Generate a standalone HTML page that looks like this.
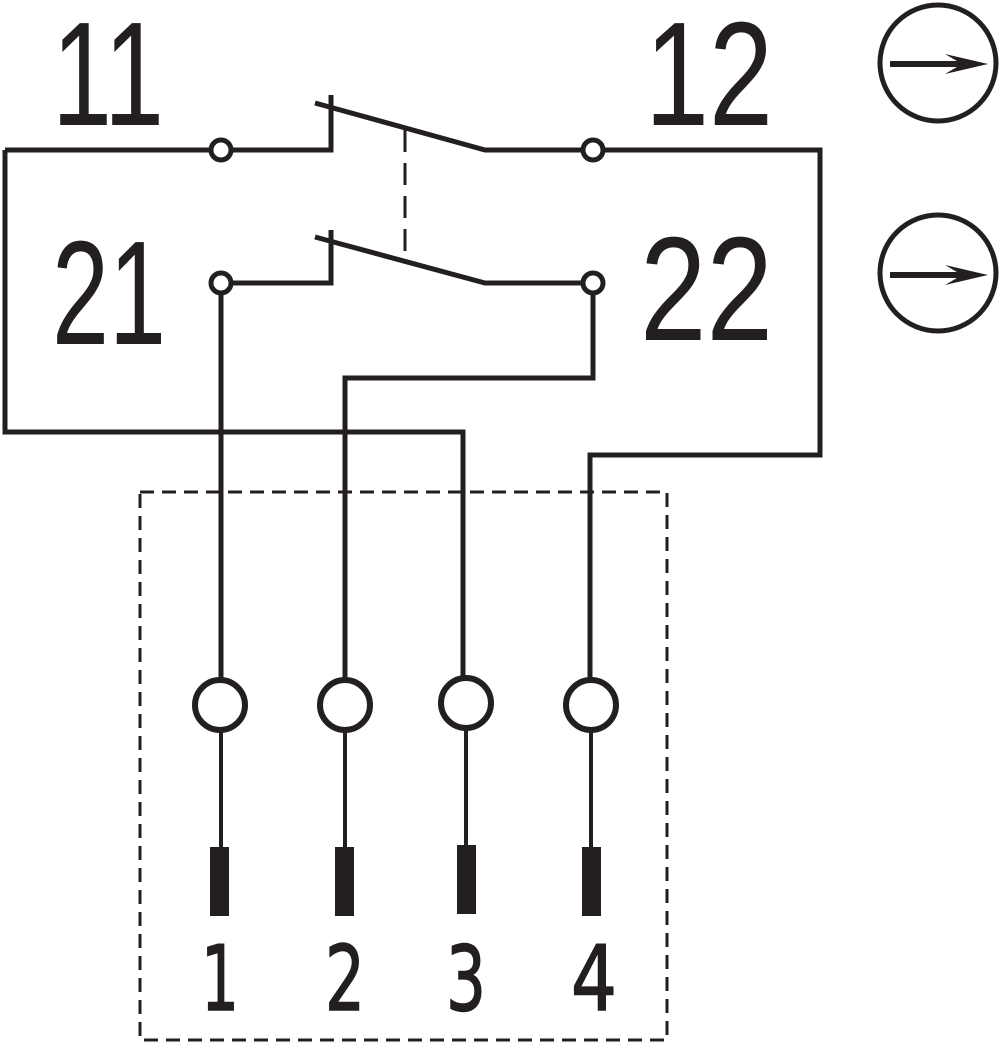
<!DOCTYPE html>
<html><head><style>html,body{margin:0;padding:0;background:#fff}svg{display:block}</style></head>
<body>
<svg width="1000" height="1046" viewBox="0 0 1000 1046" xmlns="http://www.w3.org/2000/svg">
<g fill="none" stroke="#231f20" stroke-width="5">
  <polyline points="5,150 211,150"/>
  <polyline points="231,150 331,150 331,95"/>
  <polyline points="315,103 485,150 583,150"/>
  <circle cx="221" cy="150" r="10"/>
  <circle cx="593" cy="150" r="10"/>
  <polyline points="603,150 820,150 820,455 590,455 590,680"/>
  <polyline points="5,150 5,432 463,432 463,680"/>
  <polyline points="231,283 331,283 331,230"/>
  <polyline points="315,237 485,283 583,283"/>
  <circle cx="221" cy="283" r="10"/>
  <circle cx="593" cy="283" r="10"/>
  <polyline points="593,293 593,378 345,378 345,680"/>
  <polyline points="221,293 221,680"/>
  <line x1="405" y1="130" x2="405" y2="258" stroke-width="3" stroke-dasharray="22,11"/>
  <rect x="140" y="492" width="527" height="548" stroke-width="3" stroke-dasharray="14,8"/>
  <g stroke-width="6">
    <circle cx="220" cy="705" r="25"/>
    <circle cx="345" cy="705" r="25"/>
    <circle cx="466" cy="703" r="25"/>
    <circle cx="591" cy="705" r="25"/>
  </g>
  <g stroke-width="4">
    <line x1="221" y1="730" x2="221" y2="850"/>
    <line x1="345" y1="730" x2="345" y2="850"/>
    <line x1="466" y1="728" x2="466" y2="850"/>
    <line x1="591" y1="730" x2="591" y2="850"/>
  </g>
  <circle cx="938" cy="63" r="58" stroke-width="5"/>
  <circle cx="938" cy="273" r="58" stroke-width="5"/>
  <line x1="890" y1="64" x2="975" y2="64" stroke-width="6"/>
  <line x1="890" y1="275" x2="975" y2="275" stroke-width="6"/>
</g>
<g fill="#231f20">
  <rect x="210" y="847" width="19" height="69"/>
  <rect x="335" y="847" width="19" height="69"/>
  <rect x="457" y="845" width="19" height="69"/>
  <rect x="582" y="847" width="19" height="69"/>
  <polygon points="945,54 988,64 945,74 962,64"/>
  <polygon points="945,265 988,275 945,285 962,275"/>
</g>
<g font-family="Liberation Sans, sans-serif" fill="#231f20" font-size="148">
  <text x="52" y="125" textLength="112" lengthAdjust="spacingAndGlyphs">11</text>
  <text x="52" y="344" textLength="114" lengthAdjust="spacingAndGlyphs">21</text>
  <text x="645" y="125" textLength="128" lengthAdjust="spacingAndGlyphs">12</text>
  <text x="640" y="340" textLength="133" lengthAdjust="spacingAndGlyphs">22</text>
</g>
<g font-family="DejaVu Sans, sans-serif" fill="#231f20" stroke="#231f20" stroke-width="1.5" font-size="90" text-anchor="middle">
  <text x="220" y="1010" textLength="38" lengthAdjust="spacingAndGlyphs">1</text>
  <text x="345" y="1010" textLength="40" lengthAdjust="spacingAndGlyphs">2</text>
  <text x="466" y="1010" textLength="40" lengthAdjust="spacingAndGlyphs">3</text>
  <text x="594" y="1010" textLength="46" lengthAdjust="spacingAndGlyphs">4</text>
</g>
</svg>
</body></html>
